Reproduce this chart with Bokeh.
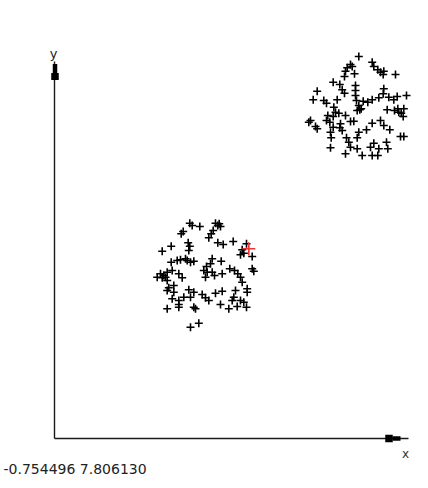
from bokeh.plotting import figure
from bokeh.models import Range1d
from bokeh.core.properties import value
from bokeh.embed import file_html
from bokeh.resources import INLINE

# ---- data ----
cluster1_x = [13.53, 13.77, 14.53, 12.87, 12.67, 16.1, 16.33, 16.6, 16.47, 15.87, 15.67, 15.43,
              10.77, 11.67, 13.37, 13.53, 13.43, 16.33, 16.87, 17.87, 19.2, 18.77, 18.6, 18.93, 19.77,
              11.67, 12.27, 12.6, 13.1, 13.27, 13.6, 13.93, 15.77, 15.6, 15.2, 16.67, 19.77, 19.93,
              10.6, 10.93, 11.1, 10.27, 10.77, 11.27, 11.77, 12.43, 12.77,
              14.93, 15.27, 15.1, 15.77, 16.0, 16.77, 17.53, 18.0, 18.33, 18.6, 18.77,
              11.27, 11.43, 11.27, 11.93, 11.93, 13.43, 13.93, 13.6, 12.93, 12.43, 11.77, 11.27, 12.43, 12.43,
              14.77, 15.1, 15.43, 16.1, 16.77, 16.6, 17.43, 17.77, 17.93, 18.27, 18.6, 18.93, 19.2,
              18.1, 19.27, 19.27, 13.93, 14.1, 13.6, 14.43]
cluster1_y = [21.53, 21.3, 21.2, 20.7, 20.47, 21.53, 21.3, 21.2, 21.47, 20.8, 20.47, 20.07,
              18.73, 19.23, 19.57, 19.23, 18.8, 19.57, 19.4, 19.7, 19.47, 18.87, 18.37, 18.53, 18.2,
              17.63, 17.8, 17.87, 17.97, 17.8, 17.63, 17.73, 17.97, 17.47, 17.2, 17.73, 16.97, 16.73,
              16.47, 16.3, 16.13, 16.13, 16.07, 16.63, 16.8, 16.47, 16.07,
              16.8, 16.63, 16.13, 16.63, 16.3, 16.47, 16.97, 16.8, 16.47, 16.13, 15.63,
              15.8, 15.07, 14.8, 14.63, 15.3, 14.87, 14.63, 14.13, 14.13, 13.8, 13.97, 12.97, 13.4, 13.13,
              14.4, 14.07, 13.8, 14.53, 14.73, 13.4, 12.97, 13.8, 14.13, 13.2, 13.8, 13.63, 13.13,
              14.8, 14.97, 14.63, 13.13, 12.97, 11.13, 11.53]

cluster2_x = [30.43, 29.6, 29.77, 29.27, 29.1, 30.0, 29.0, 31.77, 31.93, 32.33, 32.6, 32.93, 32.87, 34.1,
              27.87, 28.53, 28.77, 29.0, 30.1, 30.1, 30.1, 30.2, 30.43, 26.27, 25.87, 26.93, 27.2, 28.27,
              32.93, 32.87, 33.43, 34.27, 35.2, 33.93, 30.87, 31.33, 31.77, 32.43, 30.53, 30.67, 30.27,
              27.93, 28.1, 27.87, 28.43, 29.1, 27.33, 27.2, 33.27, 34.0, 34.33, 34.93, 34.67, 34.87, 34.43,
              25.6, 25.43, 26.1, 26.27, 27.53, 27.87, 27.6, 28.53, 28.77, 28.6, 29.6, 29.93,
              31.77, 32.6, 32.93, 33.53, 31.2, 30.43, 30.27, 27.67, 29.2, 29.43, 29.6, 34.6, 34.93,
              27.6, 30.27, 30.77, 29.1, 31.6, 31.93, 32.43, 31.77, 32.33, 33.2, 33.33]
cluster2_y = [38.2, 37.4, 37.2, 37.07, 36.73, 36.47, 36.2, 37.63, 37.2, 36.87, 36.63, 36.73, 36.4, 36.4,
              35.63, 35.4, 34.87, 34.53, 35.3, 34.8, 34.3, 33.8, 33.3, 34.73, 33.87, 33.8, 33.53, 33.87,
              34.97, 34.47, 34.13, 34.2, 34.3, 33.87, 33.73, 33.63, 33.87, 34.07, 32.87, 32.97, 32.8,
              33.13, 32.63, 32.2, 32.53, 32.3, 32.3, 31.8, 32.87, 32.8, 32.97, 32.97, 32.53, 32.2, 32.63,
              31.8, 31.63, 31.2, 30.97, 31.63, 31.13, 30.63, 31.07, 30.8, 31.47, 31.7, 31.73,
              31.53, 31.8, 31.3, 30.87, 30.87, 30.63, 30.07, 30.07, 30.07, 29.63, 29.13, 30.2, 30.2,
              29.07, 28.97, 28.3, 28.47, 29.13, 29.53, 28.97, 28.3, 28.3, 29.63, 28.97]

highlight_x = [19.43]
highlight_y = [18.97]

x_axis_end = 35.4
y_axis_end = 37.7
axis_labels = ["x", "y"]
coord_text = "-0.754496 7.806130"

# ---- figure ----
p = figure(width=428, height=488, output_backend="svg", toolbar_location=None,
           x_range=Range1d(-5.4, 37.4), y_range=Range1d(-5.0, 43.8),
           min_border=0)
p.axis.visible = False
p.grid.visible = False
p.outline_line_color = None
p.background_fill_color = "white"
p.border_fill_color = "white"

# axes with arrow blocks
axis_col = "#1a1a1a"
p.line([0, x_axis_end], [0, 0], line_color=axis_col, line_width=1.4)
p.line([0, 0], [0, y_axis_end], line_color=axis_col, line_width=1.4)
p.rect([33.45], [0], width=7.5, height=7.5, width_units="screen", height_units="screen",
       fill_color="black", line_color=None)
p.rect([34.2], [0], width=8, height=4.5, width_units="screen", height_units="screen",
       fill_color="black", line_color=None)
p.rect([0.05], [36.2], width=7.5, height=7, width_units="screen", height_units="screen",
       fill_color="black", line_color=None)
p.rect([0.05], [37.0], width=4.5, height=9, width_units="screen", height_units="screen",
       fill_color="black", line_color=None)

p.text([35.1], [-1.5], text=[axis_labels[0]], text_font=value("DejaVu Sans"),
       text_font_size="12px", text_color="#333333", text_align="center", text_baseline="middle")
p.text([-0.1], [38.5], text=[axis_labels[1]], text_font=value("DejaVu Sans"),
       text_font_size="13px", text_color="#222222", text_align="center", text_baseline="middle")

# points
p.scatter(cluster1_x, cluster1_y, marker="cross", size=8, line_color="black", line_width=1.6)
p.scatter(cluster2_x, cluster2_y, marker="cross", size=8, line_color="black", line_width=1.6)
p.scatter(highlight_x, highlight_y, marker="cross", size=13, line_color="#ee3333", line_width=1.6)

# coordinate readout
p.text([-5.1], [-3.0], text=[coord_text], text_font=value("DejaVu Sans"),
       text_font_size="14px", text_color="#222222", text_align="left", text_baseline="alphabetic")

open("out.html", "w").write(file_html(p, INLINE))
